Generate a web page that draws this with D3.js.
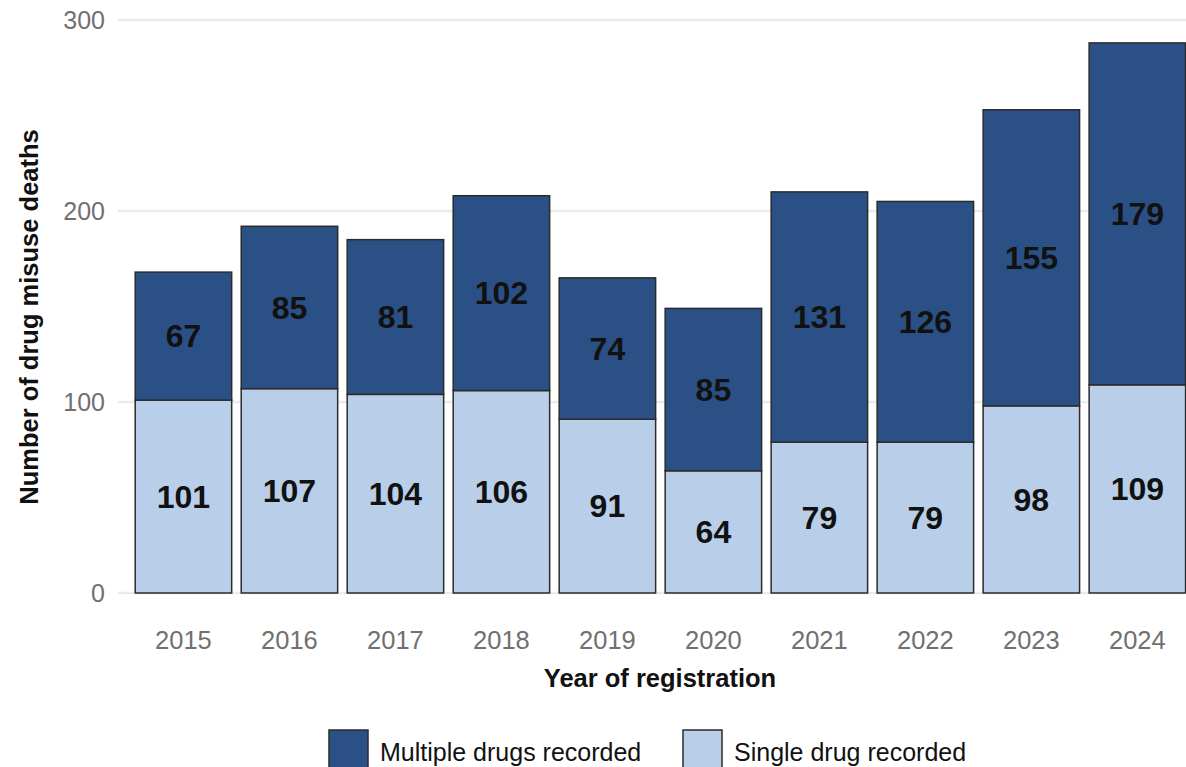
<!DOCTYPE html>
<html><head><meta charset="utf-8">
<script src="https://cdn.jsdelivr.net/npm/d3@7"></script>
<style>body{margin:0;background:#fff;font-family:"Liberation Sans",Arial,sans-serif;}</style>
</head><body>
<svg id="c" width="1186" height="767"></svg>
<script>
const years = ["2015","2016","2017","2018","2019","2020","2021","2022","2023","2024"];
const single = [101,107,104,106,91,64,79,79,98,109];
const multiple = [67,85,81,102,74,85,131,126,155,179];
const yTicks = [0,100,200,300];
const seriesNames = ["Multiple drugs recorded","Single drug recorded"];
const colors = {"Multiple drugs recorded":"#2a5085","Single drug recorded":"#b9cfe9"};

const svg = d3.select("#c");
const x = d3.scaleBand().domain(years).range([118.8,1202]).paddingInner(0.09).paddingOuter(0.155);
const y = d3.scaleLinear().domain([0,300]).range([593,20]);

// gridlines
svg.append("g").selectAll("line").data(yTicks).join("line")
  .attr("x1",118).attr("x2",1186).attr("y1",d=>y(d)).attr("y2",d=>y(d))
  .attr("stroke","#ebebeb").attr("stroke-width",2.5);

// y tick labels
svg.append("g").selectAll("text").data(yTicks).join("text")
  .attr("x",105).attr("y",d=>y(d)).attr("dy","0.35em").attr("text-anchor","end")
  .attr("font-size",25).attr("fill","#707070").text(d=>d);

const data = years.map((yr,i)=>({year:yr,single:single[i],multiple:multiple[i]}));
const stack = d3.stack().keys(["single","multiple"])(data);
const keyColor = {single:colors["Single drug recorded"], multiple:colors["Multiple drugs recorded"]};

const gBars = svg.append("g");
stack.forEach(layer=>{
  gBars.append("g").selectAll("rect").data(layer).join("rect")
    .attr("x",d=>x(d.data.year)).attr("width",x.bandwidth())
    .attr("y",d=>y(d[1])).attr("height",d=>y(d[0])-y(d[1]))
    .attr("fill",keyColor[layer.key]).attr("stroke","#2b2b2b").attr("stroke-width",1.5);
});
stack.forEach(layer=>{
  svg.append("g").selectAll("text").data(layer).join("text")
    .attr("x",d=>x(d.data.year)+x.bandwidth()/2).attr("y",d=>y((d[0]+d[1])/2))
    .attr("dy","0.35em").attr("text-anchor","middle")
    .attr("font-size",32).attr("font-weight","bold").attr("fill","#111")
    .text(d=>d[1]-d[0]);
});

// x tick labels
svg.append("g").selectAll("text").data(years).join("text")
  .attr("x",d=>x(d)+x.bandwidth()/2).attr("y",640).attr("dy","0.35em").attr("text-anchor","middle")
  .attr("font-size",25.5).attr("fill","#707070").text(d=>d);

// axis titles
svg.append("text").attr("x",660).attr("y",678).attr("dy","0.35em").attr("text-anchor","middle")
  .attr("font-size",25.5).attr("font-weight","bold").attr("fill","#111").text("Year of registration");
svg.append("text").attr("transform","translate(29,317) rotate(-90)").attr("dy","0.35em").attr("text-anchor","middle")
  .attr("font-size",25.5).attr("font-weight","bold").attr("fill","#111").text("Number of drug misuse deaths");

// legend
const legX = [329,683];
const lg = svg.append("g");
seriesNames.forEach((n,i)=>{
  lg.append("rect").attr("x",legX[i]).attr("y",730).attr("width",39).attr("height",40)
    .attr("fill",colors[n]).attr("stroke","#2b2b2b").attr("stroke-width",1.5);
  lg.append("text").attr("x",legX[i]+51).attr("y",752).attr("dy","0.35em")
    .attr("font-size",25).attr("fill","#111").text(n);
});
</script>
</body></html>
